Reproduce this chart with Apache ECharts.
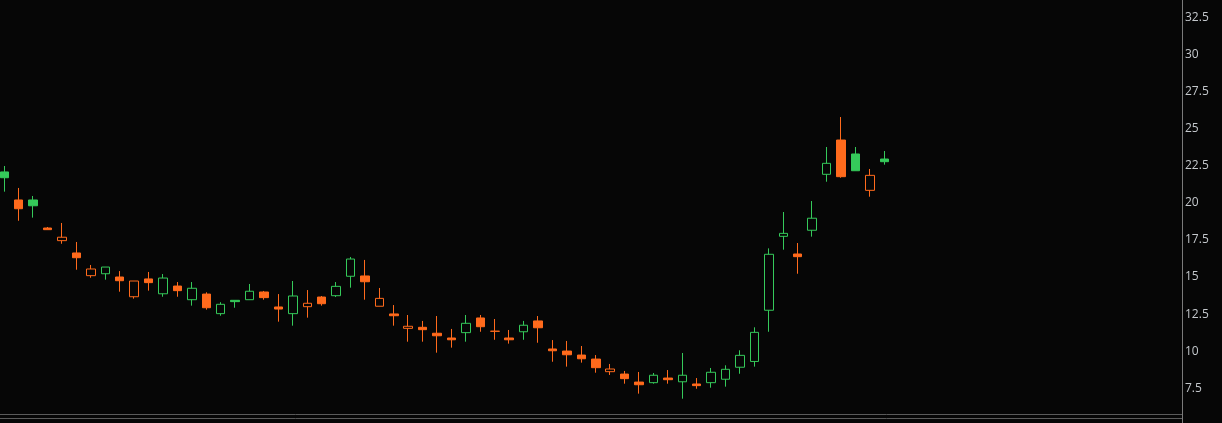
<!DOCTYPE html>
<html><head><meta charset="utf-8">
<script src="https://cdn.jsdelivr.net/npm/echarts@6/dist/echarts.min.js"></script>
<style>html,body{margin:0;padding:0;background:#060606;overflow:hidden}#c{width:1222px;height:423px}</style>
</head><body><div id="c"></div>
<script>
const sessions = ['1','2','3','4','5','6','7','8','9','10','11','12','13','14','15','16','17','18','19','20',
  '21','22','23','24','25','26','27','28','29','30','31','32','33','34','35','36','37','38','39','40',
  '41','42','43','44','45','46','47','48','49','50','51','52','53','54','55','56','57','58','59','60','61','62'];
const opens  = [22.08,20.19,20.19,18.30,17.45,16.62,15.09,15.22,15.00,13.67,14.87,13.87,14.39,13.47,13.85,12.53,13.43,13.47,13.99,12.98,
  12.53,13.00,13.65,13.74,15.05,15.07,13.03,12.51,11.54,11.61,11.21,10.89,11.25,12.24,11.35,10.89,11.31,12.04,10.15,10.01,
  9.74,9.47,8.62,8.46,7.92,7.88,8.19,7.94,7.79,7.88,8.11,8.92,9.31,12.76,17.74,16.55,18.15,21.92,24.23,23.29,20.84,22.95];
const closes = [21.69,19.60,19.80,18.19,17.68,16.30,15.54,15.67,14.75,14.73,14.62,14.93,14.08,14.24,12.93,13.16,13.34,14.04,13.61,12.84,
  13.72,13.23,13.20,14.37,16.21,14.68,13.56,12.39,11.68,11.45,11.04,10.77,11.88,11.65,11.34,10.77,11.75,11.58,10.03,9.76,
  9.49,8.89,8.80,8.15,7.74,8.38,8.08,8.38,7.68,8.58,8.78,9.72,11.27,16.53,17.94,16.37,18.96,22.66,21.76,22.16,21.85,22.77];
const lows   = [20.75,18.79,19.00,18.19,17.24,15.49,14.95,14.82,14.01,13.54,14.08,13.67,13.67,13.07,12.80,12.39,12.93,13.47,13.47,11.99,
  11.72,12.26,13.07,13.65,14.28,13.47,13.03,11.72,10.64,10.64,9.90,10.24,10.64,11.31,10.77,10.51,10.77,10.57,9.29,8.96,
  9.23,8.55,8.40,7.81,7.14,7.81,7.81,6.80,7.47,7.54,7.61,8.48,8.96,11.31,16.84,15.22,17.72,21.42,21.69,22.16,20.41,22.57];
const highs  = [22.48,21.00,20.46,18.37,18.64,17.36,15.81,15.67,15.40,14.73,15.34,15.20,14.66,14.66,13.97,13.30,13.43,14.53,14.06,13.85,
  14.73,14.12,13.72,14.66,16.35,16.15,14.26,13.11,12.44,12.04,12.37,11.50,12.44,12.44,12.17,11.43,12.04,12.37,10.75,10.69,
  10.35,9.74,9.14,8.67,8.60,8.53,8.73,9.88,8.19,8.87,9.05,10.06,11.61,16.93,19.38,17.29,20.12,23.76,25.78,23.76,22.28,23.49];
const priceTicks = [7.5, 10, 12.5, 15, 17.5, 20, 22.5, 25, 27.5, 30, 32.5];

const BG = '#060606', UP = '#35c95a', DOWN = '#ff6a1c';
const TOTAL_SLOTS = 82;

const cats = sessions.slice();
while (cats.length < TOTAL_SLOTS) cats.push('');

const candles = sessions.map((s, i) => {
  const prev = i === 0 ? closes[i] - 1 : closes[i - 1];
  const c = closes[i] >= prev ? UP : DOWN;
  const hollow = closes[i] > opens[i];
  const fill = hollow ? BG : c;
  return {
    value: [opens[i], closes[i], lows[i], highs[i]],
    itemStyle: { color: fill, color0: fill, borderColor: c, borderColor0: c, borderWidth: 1 }
  };
});

const chart = echarts.init(document.getElementById('c'), null, { renderer: 'canvas' });
chart.setOption({
  backgroundColor: BG,
  animation: false,
  grid: { left: -2.9, right: 42, top: -19.8, bottom: -2.4, containLabel: false, outerBoundsMode: 'none' },
  xAxis: {
    type: 'category', data: cats, boundaryGap: true,
    axisLine: { show: false }, axisTick: { show: false }, axisLabel: { show: false }, splitLine: { show: false }
  },
  yAxis: {
    type: 'value', position: 'right', offset: 2, min: 5, max: 35, interval: 2.5,
    axisLine: { show: true, lineStyle: { color: '#7a7a7a', width: 1 } },
    axisTick: { show: false }, splitLine: { show: false },
    axisLabel: {
      show: true, margin: 3, color: '#c4c8cc', fontSize: 12, fontFamily: 'Open Sans',
      formatter: v => priceTicks.some(t => Math.abs(t - v) < 1e-6) ? String(v) : ''
    }
  },
  graphic: [
    { type: 'line', silent: true, shape: { x1: 0, y1: 414.5, x2: 1182, y2: 414.5 }, style: { stroke: '#5a5a5a', lineWidth: 1 } },
    { type: 'line', silent: true, shape: { x1: 0, y1: 418.5, x2: 1182, y2: 418.5 }, style: { stroke: '#5a5a5a', lineWidth: 1 } }
  ],
  series: [{
    type: 'candlestick', data: candles, barWidth: 9, clip: true
  }]
});
</script>
</body></html>
